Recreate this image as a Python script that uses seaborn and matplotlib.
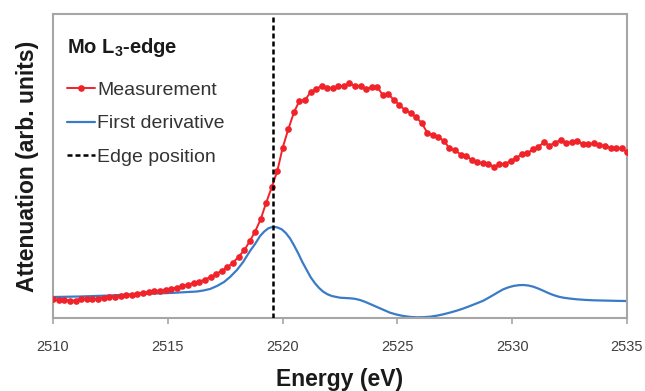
import numpy as np
import pandas as pd
import matplotlib
matplotlib.use("Agg")
import matplotlib.pyplot as plt
import seaborn as sns

# ---- data ----
meas_energy = [
    2510.00, 2510.24, 2510.49, 2510.74, 2510.98, 2511.23, 2511.47, 2511.72, 2511.96, 2512.21,
    2512.45, 2512.70, 2512.94, 2513.19, 2513.43, 2513.68, 2513.92, 2514.17, 2514.41, 2514.66,
    2514.90, 2515.15, 2515.40, 2515.64, 2515.88, 2516.13, 2516.38, 2516.62, 2516.86, 2517.11,
    2517.36, 2517.60, 2517.85, 2518.09, 2518.34, 2518.58, 2518.80, 2519.05, 2519.28, 2519.53,
    2519.77, 2520.00, 2520.25, 2520.50, 2520.73, 2520.98, 2521.22, 2521.45, 2521.70, 2521.95,
    2522.18, 2522.43, 2522.67, 2522.91, 2523.15, 2523.40, 2523.63, 2523.88, 2524.12, 2524.36,
    2524.60, 2524.85, 2525.08, 2525.33, 2525.58, 2525.81, 2526.06, 2526.30, 2526.54, 2526.78,
    2527.03, 2527.26, 2527.51, 2527.76, 2527.99, 2528.24, 2528.48, 2528.72, 2528.96, 2529.21,
    2529.44, 2529.69, 2529.93, 2530.17, 2530.41, 2530.66, 2530.89, 2531.14, 2531.39, 2531.62,
    2531.86, 2532.11, 2532.34, 2532.59, 2532.84, 2533.07, 2533.31, 2533.56, 2533.79, 2534.04,
    2534.29, 2534.52, 2534.77, 2535.00,
]
meas_value = [
    0.190, 0.180, 0.180, 0.175, 0.175, 0.195, 0.195, 0.190, 0.195, 0.205,
    0.210, 0.210, 0.220, 0.230, 0.235, 0.245, 0.255, 0.260, 0.270, 0.275,
    0.285, 0.295, 0.305, 0.320, 0.335, 0.350, 0.365, 0.385, 0.410, 0.440,
    0.475, 0.510, 0.555, 0.615, 0.680, 0.773, 0.863, 0.990, 1.150, 1.310,
    1.470, 1.700, 1.890, 2.060, 2.170, 2.180, 2.260, 2.290, 2.320, 2.300,
    2.300, 2.320, 2.320, 2.350, 2.320, 2.320, 2.290, 2.307, 2.313, 2.230,
    2.240, 2.180, 2.130, 2.080, 2.050, 2.010, 1.950, 1.853, 1.830, 1.807,
    1.773, 1.697, 1.677, 1.635, 1.623, 1.580, 1.557, 1.547, 1.540, 1.507,
    1.537, 1.540, 1.573, 1.597, 1.640, 1.647, 1.687, 1.713, 1.757, 1.725,
    1.753, 1.780, 1.753, 1.757, 1.773, 1.737, 1.737, 1.747, 1.730, 1.720,
    1.703, 1.697, 1.697, 1.663,
]

deriv_energy = [
    2510.00, 2511.18, 2512.48, 2513.79, 2515.10, 2516.27, 2516.55, 2516.84, 2517.14, 2517.45,
    2517.71, 2518.01, 2518.28, 2518.58, 2518.80, 2519.02, 2519.20, 2519.38, 2519.60, 2519.78,
    2519.96, 2520.14, 2520.32, 2520.50, 2520.68, 2520.86, 2521.05, 2521.23, 2521.41, 2521.59,
    2521.77, 2521.95, 2522.14, 2522.50, 2522.72, 2522.94, 2523.15, 2523.37, 2523.59, 2523.81,
    2524.03, 2524.24, 2524.46, 2524.68, 2524.97, 2525.26, 2525.55, 2525.84, 2526.13, 2526.42,
    2526.71, 2527.00, 2527.29, 2527.58, 2527.87, 2528.16, 2528.45, 2528.74, 2528.96, 2529.18,
    2529.40, 2529.61, 2529.83, 2530.05, 2530.27, 2530.48, 2530.70, 2530.92, 2531.13, 2531.35,
    2531.57, 2531.79, 2532.01, 2532.23, 2532.52, 2532.81, 2533.17, 2533.53, 2533.90, 2534.26,
    2534.62, 2534.99,
]
deriv_value = [
    0.210, 0.215, 0.225, 0.240, 0.250, 0.265, 0.275, 0.290, 0.320, 0.360,
    0.410, 0.480, 0.560, 0.670, 0.740, 0.820, 0.865, 0.897, 0.913, 0.905,
    0.887, 0.850, 0.797, 0.725, 0.647, 0.560, 0.480, 0.405, 0.347, 0.300,
    0.263, 0.238, 0.220, 0.203, 0.200, 0.197, 0.192, 0.180, 0.162, 0.140,
    0.118, 0.097, 0.075, 0.053, 0.034, 0.020, 0.011, 0.007, 0.008, 0.013,
    0.023, 0.037, 0.054, 0.073, 0.095, 0.120, 0.146, 0.173, 0.201, 0.230,
    0.260, 0.287, 0.306, 0.320, 0.328, 0.330, 0.325, 0.313, 0.295, 0.273,
    0.250, 0.230, 0.214, 0.203, 0.194, 0.187, 0.181, 0.177, 0.175, 0.173,
    0.171, 0.170,
]

edge_position = 2519.6
x_ticks = [2510, 2515, 2520, 2525, 2530, 2535]
legend_title = "Mo L$_\\mathbf{3}$-edge"
labels = ["Measurement", "First derivative", "Edge position"]

# ---- styling ----
sns.set_theme(style="white")
plt.rcParams["font.family"] = ["Liberation Sans", "DejaVu Sans"]
plt.rcParams["mathtext.fontset"] = "custom"
plt.rcParams["mathtext.rm"] = "Liberation Sans"
plt.rcParams["mathtext.bf"] = "Liberation Sans:bold"

fig = plt.figure(figsize=(6.45, 3.91), dpi=100)
ax = fig.add_axes([53 / 645, 1 - 318 / 391, 574 / 645, 304 / 391])

red = "#f0222a"
blue = "#3a7bc8"

meas_df = pd.DataFrame({"Energy": meas_energy, "Value": meas_value})
deriv_df = pd.DataFrame({"Energy": deriv_energy, "Value": deriv_value})

sns.lineplot(data=meas_df, x="Energy", y="Value", ax=ax, color=red, lw=1.4,
             marker="o", markersize=4.8, markeredgewidth=0, label=labels[0],
             zorder=3)
sns.lineplot(data=deriv_df, x="Energy", y="Value", ax=ax, color=blue, lw=1.6,
             label=labels[1], zorder=2)
ax.axvline(edge_position, color="black", lw=1.8, ls=(0, (2.0, 1.2)),
           label=labels[2], zorder=4)

ax.set_xlim(2510, 2535)
ax.set_ylim(0, 3.04)
ax.set_xticks(x_ticks)
ax.set_xticklabels([str(t) for t in x_ticks])
ax.set_yticks([])

for s in ax.spines.values():
    s.set_visible(True)
    s.set_color("#a6a6a6")
    s.set_linewidth(1.5)

ax.tick_params(axis="x", which="both", direction="out", length=4, width=1.2,
               color="#a6a6a6", labelsize=10.5, labelcolor="#404040", pad=12,
               bottom=True)

ax.set_xlabel("Energy (eV)", fontsize=16.5, fontweight="bold", color="#1a1a1a",
              labelpad=10)
ax.set_ylabel("Attenuation (arb. units)", fontsize=16.5, fontweight="bold",
              color="#1a1a1a", labelpad=10)

leg = ax.legend(loc="upper left", bbox_to_anchor=(-0.014, 1.0), frameon=False,
                title=legend_title, alignment="left", fontsize=14,
                handlelength=1.4, handletextpad=0.12, labelspacing=0.8,
                borderpad=0.85, borderaxespad=0.3)
leg.get_title().set_fontweight("bold")
leg.get_title().set_fontsize(14.5)
leg.get_title().set_color("#1a1a1a")
for t in leg.get_texts():
    t.set_color("#333333")
leg._legend_box.sep = 16

fig.savefig("out.png", dpi=100)
